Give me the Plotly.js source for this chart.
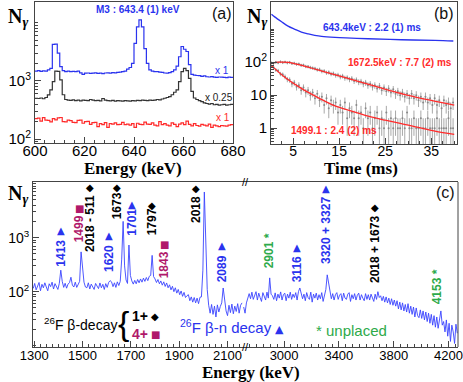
<!DOCTYPE html>
<html>
<head>
<meta charset="utf-8">
<script src="https://cdn.plot.ly/plotly-3.0.1.min.js"></script>
<style>html,body{margin:0;padding:0;background:#fff}#fig{width:463px;height:382px}</style>
</head>
<body>
<div id="fig"></div>
<script>
// ---- (a) gated spectra, 1 keV bins starting at 600 keV ----
const A_E0 = 600, A_STEP = 1;
const A_BLUE = [
  1480,1500,1460,1490,1470,1550,1650,4250,4300,3000,
  1760,1500,1450,1470,1440,1460,1450,1480,1380,1300,
  1360,1370,1350,1360,1380,1350,1360,1340,1370,1380,
  1360,1390,1380,1400,1420,1450,1480,1600,1700,2000,
  4400,8500,11200,8500,3600,2000,1550,1470,1450,1440,
  1420,1400,1370,1360,1390,1450,1550,1800,2600,3900,
  3500,3200,1900,1300,1260,1240,1230,1200,1220,1180,
  1170,1190,1160,1150,1170,1160,1150,1140,1160,1150];
const A_BLACK = [
  505,500,510,495,520,575,700,970,1480,1460,
  1040,580,480,470,465,475,460,470,455,470,
  465,460,480,470,460,465,455,500,470,460,
  455,465,450,460,455,450,460,455,450,460,
  455,465,460,470,465,460,470,465,470,480,
  475,490,505,520,540,580,640,700,970,1440,
  1650,1500,1110,660,510,480,460,440,420,410,
  400,410,390,395,385,390,395,385,390,395];
const A_RED = [
  225,230,205,235,212,210,198,226,215,232,
  236,200,198,212,208,195,193,210,212,188,
  200,203,180,192,195,165,185,178,192,160,
  185,182,190,178,180,195,178,182,175,185,
  160,188,180,178,196,182,180,190,175,170,
  200,178,185,175,170,190,180,165,182,190,
  178,205,180,170,185,172,168,180,175,170,
  182,160,175,170,165,172,170,168,175,178];

// ---- (b) time distributions ----
const B_T643 = [0.3,1,2.5,3.9,5.4,6.8,8.3,9.7,11.2,14.1,17.7,21.3,28.5,35.8,39.8];
const B_N643 = [2820,2340,1660,1230,980,810,710,645,600,560,535,510,475,455,435];
const B_TFIT1672 = [0.2,2,4,6,8,10,14,18,22,26,30,35,40];
const B_FIT1672 = [93,100,98,85,72,60,42,29,20,13.8,9.8,6.9,5.0];
const B_TFIT1499 = [0.2,3.2,6.8,10.5,14.1,17.7,21.3,25,28.5,32.2,35.8,40];
const B_FIT1499 = [81,35,16,8.3,4.7,3.3,2.3,1.74,1.38,1.05,0.81,0.65];
const B_T0 = 0.25, B_TSTEP = 0.5;
const B_DATA1672 = [
  95,92,99,96,103,97,101,95,99,91, 93,86,88,80,81,74,73,69,66,64,
  59,60,53,54,48,49,44,45,40,41, 36,38,33,34,30,32,27,29,25,26,
  22,24,20,22,18,20,16,19,14,17, 13,16,12,15,11,13,10,12,9,11,
  8,11,8,10,7,9,6,9,6,8, 5,8,5,7,4,7,5,6,4,6];
const B_DATA1499 = [
  75,70,58,55,44,42,36,30,29,22, 24,18,20,14,17,12,14,10,12,8,
  11,7,9,5,8,4,7,5,6,3, 5,3,6,2,4,3,2,5,2,3,
  1,4,2,3,1,2,3,1,2,1, 3,1,2,1,2,1,1,2,1,3,
  1,1,2,1,1,2,1,1,2,1, 1,1,2,1,1,1,1,2,1,1];

// ---- (c) singles spectrum, broken energy axis ----
const C1_E0 = 1296, C1_STEP = 6;
const C1_COUNTS = [
  115,142,108,133,148,104,137,118,146,122,
  104,140,124,150,112,141,121,110,143,250,
  155,120,143,116,138,147,185,132,122,150,
  120,142,155,545,260,150,122,118,146,112,
  138,120,110,142,122,114,145,118,137,110,
  141,120,148,160,152,124,146,120,152,130,
  155,400,2000,300,165,142,730,200,158,138,
  162,140,168,146,172,150,178,155,183,160,
  192,200,470,190,172,148,168,140,158,132,
  152,125,145,118,134,108,126,100,118,94,
  110,88,103,82,97,78,84,88,68,80,
  64,78,62,76,60,79,80,250,7000,900,
  110,56,40,58,38,54,34,57,42,53,
  62,117,64,44,36,56,41,59,39,54,
  43,60,40,56,62];
const C2_E0 = 2705, C2_STEP = 10;
const C2_COUNTS = [
  52,40,62,78,92,74,98,72,88,100,
  70,94,78,66,96,80,70,98,76,180,
  90,84,72,95,68,90,76,99,70,88,
  94,68,90,76,98,72,90,78,96,70,
  100,117,92,74,90,68,96,78,72,98,
  64,90,76,94,70,88,74,96,66,90,
  110,205,140,96,74,92,70,88,96,72,
  86,92,68,94,76,72,90,96,66,88,
  74,92,70,86,94,70,88,76,68,92,
  72,88,70,90,76,66,90,72,100,78,
  84,68,82,64,80,62,76,58,74,56,
  70,54,68,48,64,46,62,44,58,42,
  60,40,54,38,52,34,50,36,33,46,
  32,44,30,42,28,40,26,38,24,36,
  22,34,21,32,44,24,28,18,30,15,
  26,12,24,18,11,25,17];
const C_TICKS1 = [1300,1500,1700,1900,2100];
const C_TICKS2 = [3000,3400,3800,4200];

const W = 463, H = 382;
const px = x => x / W, py = y => 1 - y / H;
const grid = (e0, step, n) => Array.from({length: n}, (_, i) => e0 + i * step);
const decades = (lo, hi) => { const v = []; for (let d = lo; d < hi; d++) for (let m = 1; m <= 9; m++) v.push(m * Math.pow(10, d)); v.push(Math.pow(10, hi)); return v; };

const BLUE = "#2a33ee", RED = "#ff2a2a", MAG = "#b0186a", GREEN = "#2eaa4a", FRAME = "#444";
const SANS = "Liberation Sans, Arial, sans-serif";
const SERIF = "Liberation Serif, Times New Roman, serif";
const SYM = "DejaVu Sans, sans-serif";

function hist(vals, e0, step) {
  const x = grid(e0, step, vals.length + 1);
  return { x, y: vals.concat(vals[vals.length - 1]) };
}

const hb = hist(A_BLUE, A_E0, A_STEP), hk = hist(A_BLACK, A_E0, A_STEP), hr = hist(A_RED, A_E0, A_STEP);
const tB = grid(B_T0, B_TSTEP, B_DATA1672.length);
const errs = { type: "sqrt", color: "#a8a8a8", thickness: 1, width: 0 };

const data = [
  { x: hr.x, y: hr.y, mode: "lines", line: { shape: "hv", color: RED, width: 1.2 }, xaxis: "x", yaxis: "y" },
  { x: hk.x, y: hk.y, mode: "lines", line: { shape: "hv", color: "#333", width: 1.2 }, xaxis: "x", yaxis: "y" },
  { x: hb.x, y: hb.y, mode: "lines", line: { shape: "hv", color: BLUE, width: 1.2 }, xaxis: "x", yaxis: "y" },

  { x: tB, y: B_DATA1499, mode: "markers", marker: { size: 2, color: "#888" }, error_y: errs, xaxis: "x2", yaxis: "y2" },
  { x: tB, y: B_DATA1672, mode: "markers", marker: { size: 2, color: "#888" }, error_y: errs, xaxis: "x2", yaxis: "y2" },
  { x: B_TFIT1672, y: B_FIT1672, mode: "lines", line: { shape: "spline", color: RED, width: 1.3 }, xaxis: "x2", yaxis: "y2" },
  { x: B_TFIT1499, y: B_FIT1499, mode: "lines", line: { shape: "spline", color: RED, width: 1.3 }, xaxis: "x2", yaxis: "y2" },
  { x: B_T643, y: B_N643, mode: "lines", line: { shape: "spline", color: BLUE, width: 1.3 }, xaxis: "x2", yaxis: "y2" },

  { x: grid(C1_E0, C1_STEP, C1_COUNTS.length), y: C1_COUNTS, mode: "lines",
    line: { color: "#3a44ff", width: 0.9 }, xaxis: "x3", yaxis: "y3" },
  { x: grid(C2_E0, C2_STEP, C2_COUNTS.length), y: C2_COUNTS, mode: "lines",
    line: { color: "#3a44ff", width: 0.9 }, xaxis: "x4", yaxis: "y3" },
];

const AX = { showgrid: false, zeroline: false, showline: true, linecolor: FRAME, linewidth: 1,
             ticks: "inside", ticklen: 6, tickcolor: FRAME, mirror: true };
const logAxis = (lo, hi, labels) => {
  const tv = Object.keys(labels).map(Number);
  return Object.assign({}, AX, { type: "log", tickmode: "array", tickvals: tv,
    ticktext: tv.map(v => labels[v]),
    minor: { tickvals: decades(lo, hi).filter(v => !tv.includes(v)), ticklen: 3, ticks: "inside", tickcolor: FRAME } });
};

const ann = [];
function txt(t, x, y, color, size, extra) {
  ann.push(Object.assign({ text: t, x: px(x), y: py(y), xref: "paper", yref: "paper", showarrow: false,
    xanchor: "center", yanchor: "middle", font: { family: SANS, size, color } }, extra || {}));
}
function vlab(t, x, y, color, sym, sy) {
  txt(t, x, y, color, 12, { textangle: -90, font: { family: SANS, size: 12, color, weight: "bold" } });
  if (sym) txt(sym, x, sy, color, 10, { font: { family: SYM, size: 10, color } });
}
const bold = (size, color, family) => ({ font: { family: family || SANS, size, color, weight: "bold" } });
const NG = "N<sub><i>γ</i></sub>";

// (a)
txt(NG, 6, 3, "#000", 20, Object.assign({ xanchor: "left", yanchor: "top" }, bold(20, "#000", SERIF)));
txt("M3 : 643.4 (1) keV", 137.5, 10, BLUE, 10, bold(10, BLUE));
txt("(a)", 222, 14, "#111", 16);
txt("x 1", 222, 70, BLUE, 10);
txt("x 0.25", 219, 97, "#222", 10);
txt("x 1", 223, 117, RED, 10);
txt("Energy (keV)", 133, 168, "#000", 17, bold(17, "#000", SERIF));
// (b)
txt(NG, 245, 3, "#000", 20, Object.assign({ xanchor: "left", yanchor: "top" }, bold(20, "#000", SERIF)));
txt("(b)", 444, 13, "#111", 16);
txt("643.4keV : 2.2 (1) ms", 372, 28, BLUE, 10, bold(10, BLUE));
txt("1672.5keV : 7.7 (2) ms", 400, 62, RED, 10, bold(10, RED));
txt("1499.1 : 2.4 (2) ms", 334, 130, RED, 10, bold(10, RED));
txt("Time (ms)", 361, 168, "#000", 17, bold(17, "#000", SERIF));
// (c)
txt(NG, 6, 180, "#000", 20, Object.assign({ xanchor: "left", yanchor: "top" }, bold(20, "#000", SERIF)));
txt("(c)", 445, 193, "#111", 16);
txt("Energy (keV)", 251, 372, "#000", 17, bold(17, "#000", SERIF));
txt("//", 245, 182, "#000", 11);
txt("//", 245, 347, "#000", 11);

vlab("1413", 60.7, 253, BLUE, "▲", 230);
vlab("1499", 79.3, 229, MAG, "■", 208);
vlab("2018 - 511", 90, 224, "#000", "◆", 187);
vlab("1620", 109, 259, BLUE, "▲", 235);
vlab("1673", 117.3, 206, "#000", "◆", 187);
vlab("1701", 131.7, 222, BLUE, "▲", 204);
vlab("1797", 152.3, 222, "#000", "◆", 205);
vlab("1843", 164.3, 265, MAG, "■", 244);
vlab("2018", 196, 210, "#000", "◆", 188);
vlab("2089", 222.3, 269, BLUE, "▲", 246);
vlab("2901 *", 269.3, 251, GREEN);
vlab("3116", 297.3, 269, BLUE, "▲", 247);
vlab("3320 + 3327", 326, 231, BLUE, "▲", 188);
vlab("2018 + 1673", 375, 250, "#000", "◆", 207);
vlab("4153 *", 437.3, 287, GREEN);

txt("<sup>26</sup>F β-decay", 80, 324, "#000", 14);
txt("{", 123, 323, "#000", 34, { font: { family: SANS, size: 34, color: "#000" } });
txt("1+", 140, 316, "#000", 14, bold(14, "#000"));
txt("◆", 155, 316, "#000", 10, { font: { family: SYM, size: 10, color: "#000" } });
txt("4+", 140, 334, MAG, 14, bold(14, MAG));
txt("■", 155, 334, MAG, 10, { font: { family: SYM, size: 10, color: MAG } });
txt("<sup>26</sup>F β-n decay", 226, 326, BLUE, 15);
txt("▲", 279, 329, BLUE, 11, { font: { family: SYM, size: 11, color: BLUE } });
txt("* unplaced", 351, 330, GREEN, 15);

const layout = {
  width: W, height: H, margin: { l: 0, r: 0, t: 0, b: 0 },
  paper_bgcolor: "#fff", plot_bgcolor: "#fff", showlegend: false,
  font: { family: SANS, color: "#000" },
  xaxis: Object.assign({}, AX, { domain: [px(35), px(233)], range: [600, 680], anchor: "y",
    tickvals: [600, 620, 640, 660, 680], tickfont: { size: 15 }, ticklabelstandoff: -6,
    minor: { dtick: 4, ticklen: 3, ticks: "inside", tickcolor: FRAME } }),
  yaxis: Object.assign(logAxis(1, 4, { 100: "10<sup>2</sup>", 1000: "10<sup>3</sup>" }),
    { domain: [py(143), py(2)], range: [1.935, 4.355], anchor: "x", tickfont: { size: 15 } }),
  xaxis2: Object.assign({}, AX, { domain: [px(271), px(457)], range: [0.2, 40.6], anchor: "y2",
    tickvals: [5, 15, 25, 35], tickfont: { size: 14 }, ticklabelstandoff: -6,
    minor: { dtick: 2.5, ticklen: 3, ticks: "inside", tickcolor: FRAME } }),
  yaxis2: Object.assign(logAxis(-1, 3, { 1: "1", 10: "10", 100: "10<sup>2</sup>" }),
    { domain: [py(144), py(2)], range: [-0.48, 3.82], anchor: "x2", tickfont: { size: 15 } }),
  xaxis3: Object.assign({}, AX, { domain: [px(33), px(243)], range: [1295, 2164], anchor: "y3",
    tickvals: C_TICKS1, tickfont: { size: 13 }, ticklabelstandoff: -4,
    minor: { dtick: 25, ticklen: 3, ticks: "inside", tickcolor: FRAME } }),
  xaxis4: Object.assign({}, AX, { domain: [px(243), px(458)], range: [2700, 4270], anchor: "y3",
    tickvals: C_TICKS2, tickfont: { size: 13 }, ticklabelstandoff: -4,
    minor: { dtick: 50, ticklen: 3, ticks: "inside", tickcolor: FRAME } }),
  yaxis3: Object.assign(logAxis(1, 4, { 100: "10<sup>2</sup>", 1000: "10<sup>3</sup>" }),
    { domain: [py(347), py(182)], range: [0.976, 4.03], anchor: "x3", mirror: false, tickfont: { size: 14 } }),
  shapes: [{ type: "line", xref: "paper", yref: "paper", x0: px(458), x1: px(458), y0: py(347), y1: py(182),
             line: { color: FRAME, width: 1 } }],
  annotations: ann,
};

Plotly.newPlot("fig", data, layout, { displayModeBar: false, staticPlot: true });
</script>
</body>
</html>
